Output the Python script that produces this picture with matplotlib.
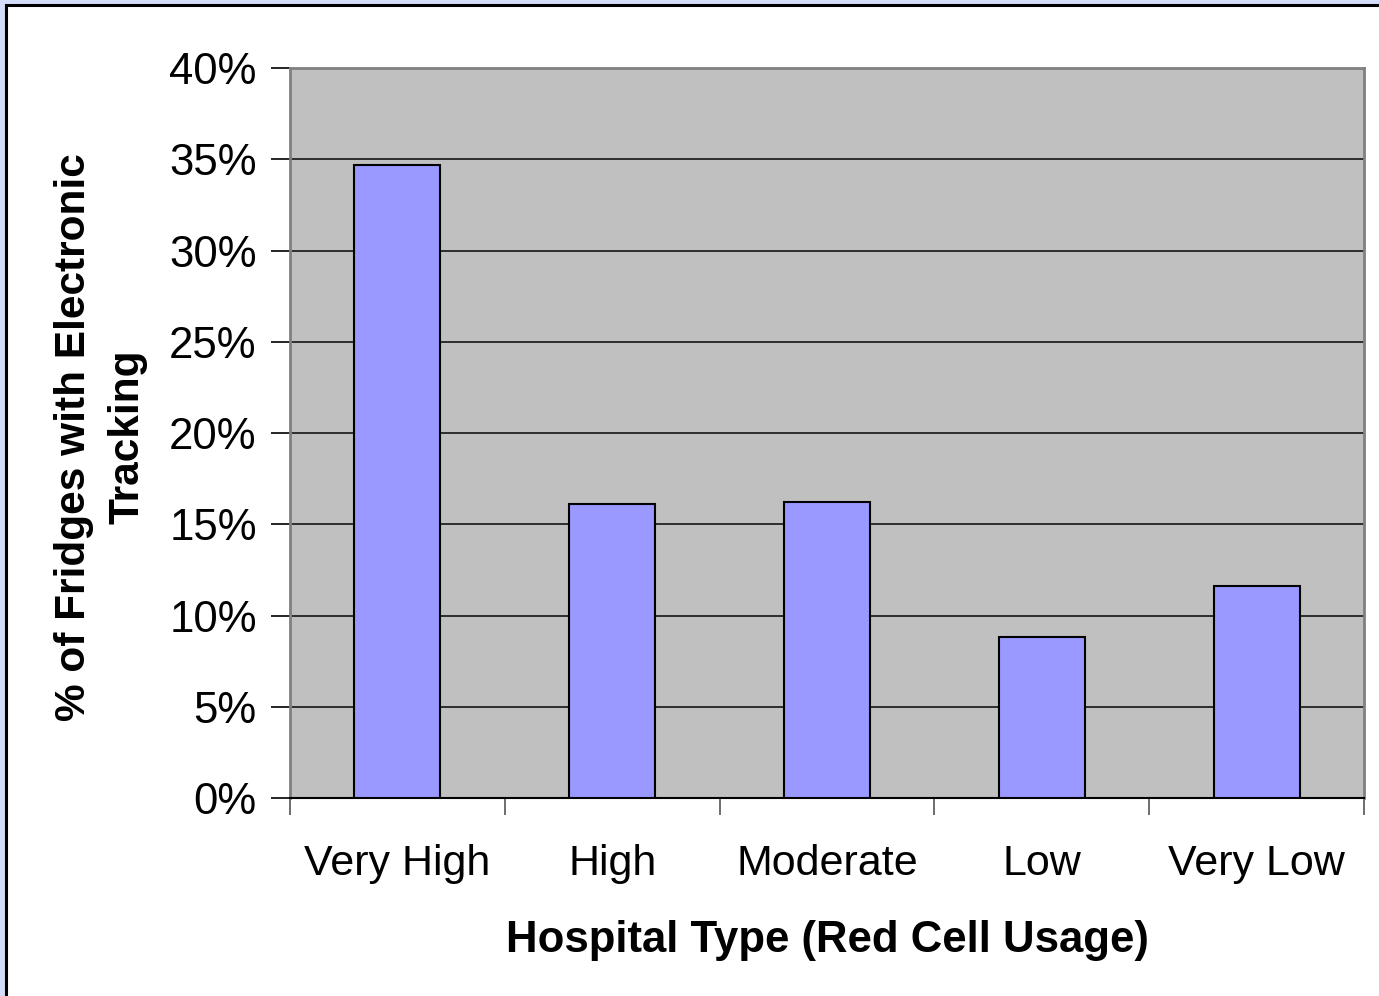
import matplotlib
matplotlib.use("Agg")
import matplotlib.pyplot as plt
from matplotlib.patches import Rectangle
from matplotlib.ticker import FuncFormatter
import numpy as np

categories = ["Very High", "High", "Moderate", "Low", "Very Low"]
values = [34.7, 16.1, 16.2, 8.8, 11.6]
yticks = [0, 5, 10, 15, 20, 25, 30, 35, 40]

plt.rcParams['font.family'] = ['Liberation Sans', 'DejaVu Sans']

W, H = 1379, 996
fig = plt.figure(figsize=(W / 100, H / 100), dpi=100)
fig.patch.set_facecolor('#D3DCF8')

# white panel with black border
bg = fig.add_axes([0, 0, 1, 1], zorder=-10)
bg.set_xlim(0, W)
bg.set_ylim(H, 0)
bg.axis('off')
bg.add_patch(Rectangle((6, 5), W + 20, H + 20, facecolor='white', edgecolor='black', linewidth=2.2))

ax = fig.add_axes([290 / W, 1 - 798 / H, (1364 - 290) / W, (798 - 68) / H])
ax.set_facecolor('#C0C0C0')

x = np.arange(len(categories))
ax.bar(x, values, width=0.4, color='#9999FF', edgecolor='black', linewidth=1.5, zorder=3)

ax.set_xlim(-0.5, len(categories) - 0.5)
ax.set_ylim(0, 40)
ax.set_yticks(yticks)
ax.yaxis.set_major_formatter(FuncFormatter(lambda v, p: f"{int(v)}%"))
ax.set_xticks(x)
ax.set_xticklabels(categories)
ax.set_xticks(np.arange(-0.5, len(categories)), minor=True)
ax.tick_params(axis='x', which='major', length=0, pad=33, labelsize=31)
ax.tick_params(axis='x', which='minor', length=12, width=1.2, color='#555555', direction='out')
ax.tick_params(axis='y', which='major', length=14, width=1.2, color='black', direction='out',
               pad=10, labelsize=31.5)

ax.yaxis.grid(True, color='#222222', linewidth=1.3, zorder=1)
ax.set_axisbelow(True)
for side in ['top', 'right', 'left']:
    ax.spines[side].set_color('#808080')
    ax.spines[side].set_linewidth(2)
ax.spines['bottom'].set_color('black')
ax.spines['bottom'].set_linewidth(1.5)

ax.set_xlabel("Hospital Type (Red Cell Usage)", fontsize=31.5, fontweight='bold', labelpad=26)
fig.text(101 / W, 1 - 437 / H, "% of Fridges with Electronic\nTracking", rotation=90,
         ha='center', va='center', fontsize=30.5, fontweight='bold', linespacing=1.45)

fig.savefig("out.png", dpi=100, facecolor=fig.get_facecolor())
